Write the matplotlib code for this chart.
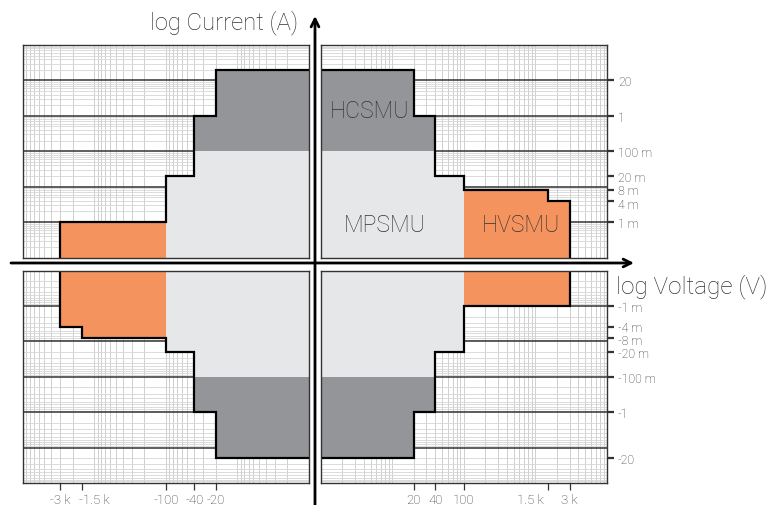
import numpy as np
import matplotlib
matplotlib.use("Agg")
import matplotlib.pyplot as plt
from matplotlib.transforms import ScaledTranslation

plt.rcParams['font.family'] = ['Roboto', 'DejaVu Sans']
plt.rcParams['font.weight'] = 'light'

# SMU output limits: voltage breakpoints (V) and current limits (A), magnitudes
hcsmu_v = [20, 40]
hcsmu_i = [20, 1]
mpsmu_v = [40, 100]
mpsmu_i = [0.1, 0.02]
hvsmu_v_q13 = [1500, 3000]        # quadrants I and III
hvsmu_i_q13 = [8e-3, 4e-3]
hvsmu_v_q24 = [3000]              # quadrants II and IV
hvsmu_i_q24 = [1e-3]

v_ticks = [20, 40, 100, 1500, 3000]
v_labels_pos = ['20', '40', '100', '1.5 k', '3 k']
v_labels_neg = ['-20', '-40', '-100', '-1.5 k', '-3 k']

i_ticks_up = [10, 1, 0.1, 0.02, 0.008, 0.004, 0.001]
i_labels_up = ['20', '1', '100 m', '20 m', '8 m', '4 m', '1 m']
i_ticks_dn = [1e-3, 4e-3, 8e-3, 0.02, 0.1, 1, 20]
i_labels_dn = ['-1 m', '-4 m', '-8 m', '-20 m', '-100 m', '-1', '-20']

V_MIN, V_MAX = 1, 1e4
I_MIN, I_MAX = 1e-4, 1e2

C_DARK = '#939598'
C_LIGHT = '#e6e7e8'
C_ORANGE = '#f5935f'
C_TEXT = '#333333'

W, H = 770, 506
fig = plt.figure(figsize=(W / 100, H / 100), dpi=100)


def px_axes(x0, y0, x1, y1):
    return fig.add_axes([x0 / W, 1 - y1 / H, (x1 - x0) / W, (y1 - y0) / H])


def shift(lbl, dx, dy):
    # nudge a text by pixels
    lbl.set_transform(lbl.get_transform() + ScaledTranslation(dx / 100, -dy / 100, fig.dpi_scale_trans))


def limit_at(edges, vals, x):
    k = np.searchsorted(edges, x) - 1
    if 0 <= k < len(vals):
        return vals[k]
    return I_MIN


def draw_quadrant(ax, hv_v, hv_i, left, lower):
    ax.set_xscale('log')
    ax.set_yscale('log')
    ax.set_xlim((V_MAX, V_MIN) if left else (V_MIN, V_MAX))
    ax.set_ylim((I_MAX, I_MIN) if lower else (I_MIN, I_MAX))

    # log paper grid
    for dec in 10.0 ** np.arange(0, 4):
        for k in range(1, 10):
            ax.axvline(dec * k, color='#cfcfcf', lw=0.7, zorder=0)
    for dec in 10.0 ** np.arange(-4, 2):
        for k in range(2, 10):
            ax.axhline(dec * k, color='#d6d6d6', lw=0.6, zorder=0)
        if dec > I_MIN:
            ax.axhline(dec, color='#333333', lw=1.1, zorder=0.2)

    smus = [
        ([V_MIN] + hcsmu_v, hcsmu_i, C_DARK),
        ([V_MIN] + hv_v, hv_i, C_ORANGE),
        ([V_MIN] + mpsmu_v, mpsmu_i, C_LIGHT),
    ]
    for z, (edges, vals, col) in enumerate(smus):
        ax.stairs(vals, edges, baseline=I_MIN, fill=True, color=col,
                  lw=0, zorder=1 + z * 0.1)

    # outer envelope
    all_edges = sorted(set(sum([e for e, _, _ in smus], [])))
    env = []
    for a, b in zip(all_edges[:-1], all_edges[1:]):
        mid = np.sqrt(a * b)
        env.append(max(limit_at(e, v, mid) for e, v, _ in smus))
    xs = list(np.repeat(all_edges, 2)[1:-1]) + [all_edges[-1]]
    ys = list(np.repeat(env, 2)) + [I_MIN]
    ax.plot(xs, ys, color='black', lw=1.6, zorder=3, solid_joinstyle='miter')

    for s in ax.spines.values():
        s.set_color('#333333')
        s.set_linewidth(1.0)
        s.set_zorder(4)

    ax.xaxis.set_minor_locator(matplotlib.ticker.NullLocator())
    ax.yaxis.set_minor_locator(matplotlib.ticker.NullLocator())
    ax.set_xticks([])
    ax.set_yticks([])


ax_ul = px_axes(22.7, 46, 309, 258.5)
ax_ur = px_axes(320.5, 46, 607, 258.5)
ax_ll = px_axes(22.7, 271.5, 309, 484)
ax_lr = px_axes(320.5, 271.5, 607, 484)

draw_quadrant(ax_ur, hvsmu_v_q13, hvsmu_i_q13, left=False, lower=False)
draw_quadrant(ax_ul, hvsmu_v_q24, hvsmu_i_q24, left=True, lower=False)
draw_quadrant(ax_ll, hvsmu_v_q13, hvsmu_i_q13, left=True, lower=True)
draw_quadrant(ax_lr, hvsmu_v_q24, hvsmu_i_q24, left=False, lower=True)

# current ticks on the right
for ax, ticks, labels in [(ax_ur, i_ticks_up, i_labels_up),
                          (ax_lr, i_ticks_dn, i_labels_dn)]:
    ax.yaxis.tick_right()
    ax.set_yticks(ticks)
    ax.set_yticklabels(labels)
    ax.tick_params(axis='y', which='major', length=5, width=1.6, color='#333333',
                   pad=3, labelsize=8.8, labelcolor=C_TEXT, right=True, left=False)
    for lbl in ax.get_yticklabels():
        lbl.set_ha('left')

# 8 m / 4 m sit very close together
shift(ax_ur.get_yticklabels()[4], 0, -1)
shift(ax_ur.get_yticklabels()[5], 0, 2)
shift(ax_lr.get_yticklabels()[1], 0, -1.5)
shift(ax_lr.get_yticklabels()[2], 0, 1)

# voltage ticks at the bottom
for ax, labels in [(ax_lr, v_labels_pos), (ax_ll, v_labels_neg)]:
    ax.set_xticks(v_ticks)
    ax.set_xticklabels(labels)
    ax.tick_params(axis='x', which='major', length=5, width=0.9, color='#333333',
                   pad=2, labelsize=9.5, labelcolor=C_TEXT)

# keep the crowded kV labels apart, as in the original
lbl = ax_lr.get_xticklabels()[3]
lbl.set_ha('right')
shift(lbl, -4, 0)
lbl = ax_ll.get_xticklabels()[3]
lbl.set_ha('left')
shift(lbl, -3, 0)

# SMU names
for txt, fx, fy in [('HCSMU', 0.172, 0.694), ('MPSMU', 0.225, 0.153), ('HVSMU', 0.70, 0.153)]:
    ax_ur.text(fx, fy, txt, transform=ax_ur.transAxes, ha='center', va='center',
               fontsize=16.5, color=C_TEXT, zorder=5)

# main axes with arrows
ov = fig.add_axes([0, 0, 1, 1], zorder=10)
ov.set_xlim(0, W)
ov.set_ylim(H, 0)
ov.set_axis_off()
ov.annotate('', xy=(315, 17), xytext=(315, H),
            arrowprops=dict(arrowstyle='->', lw=2, color='black', mutation_scale=14,
                            shrinkA=0, shrinkB=0))
ov.annotate('', xy=(634, 264), xytext=(11, 264),
            arrowprops=dict(arrowstyle='->', lw=2, color='black', mutation_scale=14,
                            shrinkA=0, shrinkB=0))
ov.text(150, 29, 'log Current (A)', ha='left', va='baseline', fontsize=17.2, color=C_TEXT)
ov.text(616, 293, 'log Voltage (V)', ha='left', va='baseline', fontsize=17.5, color=C_TEXT)

fig.savefig('out.png', dpi=100)
